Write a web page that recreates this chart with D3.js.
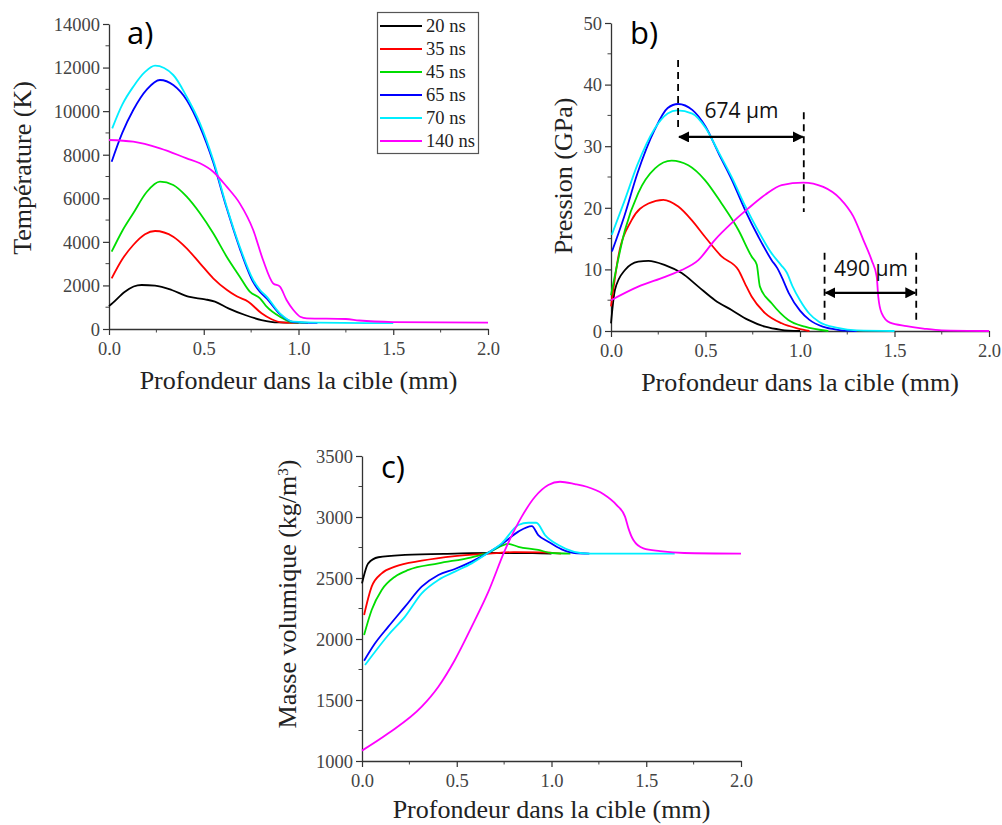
<!DOCTYPE html>
<html><head><meta charset="utf-8">
<script src="https://cdn.jsdelivr.net/npm/d3@7"></script>
<style>body{margin:0;background:#fff}svg{display:block}</style>
</head><body><svg id="c" width="1002" height="825"></svg>
<script>
// ---------- DATA ----------
const seriesNames = ["20 ns","35 ns","45 ns","65 ns","70 ns","140 ns"];
const seriesColors = ["#000000","#ff0000","#00dd00","#0000ff","#00eeff","#ff00ff"];
const xTicks = [0,0.5,1.0,1.5,2.0];

// a) Temperature (K)
const temp20 = [[0,1050],[0.02,1200],[0.084,1713],[0.13,1950],[0.172,2020],[0.243,1988],[0.331,1790],[0.419,1483],[0.507,1362],[0.559,1255],[0.63,949],[0.718,643],[0.805,413],[0.893,300],[1.0,290]];
const temp35 = [[0.014,2326],[0.07,3200],[0.128,3856],[0.19,4350],[0.243,4498],[0.339,4237],[0.41,3703],[0.48,3015],[0.55,2327],[0.621,1800],[0.674,1500],[0.735,1255],[0.805,720],[0.858,445],[0.911,300],[1.0,280]];
const temp45 = [[0.014,3548],[0.07,4500],[0.128,5311],[0.2,6300],[0.269,6761],[0.339,6608],[0.41,6073],[0.48,5311],[0.55,4393],[0.621,3320],[0.69,2402],[0.743,1713],[0.797,1408],[0.832,1025],[0.902,565],[0.973,300],[1.05,280]];
const temp65 = [[0.014,7680],[0.07,9000],[0.128,10052],[0.2,11000],[0.269,11430],[0.339,11200],[0.41,10512],[0.48,9286],[0.55,7650],[0.621,5550],[0.69,3700],[0.761,2150],[0.797,1700],[0.832,1400],[0.902,680],[0.973,320],[1.1,280]];
const temp70 = [[0.017,9212],[0.07,10300],[0.128,11123],[0.19,11800],[0.243,12086],[0.339,11659],[0.41,10663],[0.48,9442],[0.55,7757],[0.621,5614],[0.69,3778],[0.761,2249],[0.797,1790],[0.832,1483],[0.902,720],[0.973,335],[1.1,290],[1.5,270]];
const temp140 = [[0,8676],[0.128,8600],[0.269,8294],[0.41,7835],[0.48,7605],[0.55,7220],[0.621,6532],[0.69,5767],[0.761,4544],[0.813,3167],[0.866,2098],[0.902,1942],[0.937,1331],[0.973,872],[1.009,565],[1.044,490],[1.25,460],[1.32,390],[1.5,320],[2.0,290]];

// b) Pressure (GPa)
const pres20 = [[0.0,1.25],[0.021,6.7],[0.074,9.9],[0.144,11.25],[0.198,11.4],[0.286,10.7],[0.374,9.4],[0.462,7.2],[0.55,5.0],[0.638,3.4],[0.726,1.8],[0.815,0.7],[0.9,0.2],[1.0,0]];
const pres35 = [[0.0,4.0],[0.039,12.1],[0.109,18.0],[0.198,20.7],[0.277,21.3],[0.356,20.2],[0.427,18.0],[0.497,15.3],[0.585,12.1],[0.674,9.9],[0.709,7.7],[0.744,5.6],[0.815,2.9],[0.903,1.25],[0.99,0.4],[1.05,0]];
const pres45 = [[0.0,5.8],[0.074,16.4],[0.144,22.4],[0.233,26.4],[0.321,27.65],[0.409,26.9],[0.497,24.5],[0.585,20.7],[0.674,16.4],[0.744,12.1],[0.771,10.8],[0.788,7.2],[0.85,4.5],[0.938,1.8],[1.026,0.7],[1.15,0]];
const pres65 = [[0.005,12.9],[0.07,18.6],[0.14,25.6],[0.23,32.6],[0.30,36.2],[0.355,36.85],[0.43,35.9],[0.50,33.2],[0.57,28.8],[0.64,24.5],[0.71,19.6],[0.78,15.3],[0.85,11.5],[0.88,10.2],[0.90,9.0],[0.94,6.2],[1.0,3.3],[1.05,1.8],[1.12,0.7],[1.2,0.2],[1.3,0]];
const pres70 = [[0.004,15.6],[0.07,21.0],[0.14,27.0],[0.23,32.8],[0.30,35.3],[0.35,35.8],[0.43,35.3],[0.50,33.0],[0.57,29.0],[0.64,24.9],[0.71,20.3],[0.78,16.2],[0.85,12.6],[0.90,10.7],[0.93,9.5],[0.96,7.3],[1.0,5.0],[1.05,2.8],[1.1,1.5],[1.2,0.5],[1.3,0.1],[1.5,0]];
const pres140 = [[0,5.0],[0.144,7.2],[0.286,8.8],[0.374,9.9],[0.462,11.5],[0.55,14.8],[0.638,17.5],[0.726,19.9],[0.815,22.1],[0.903,23.7],[1.017,24.1],[1.123,23.4],[1.212,21.5],[1.282,18.6],[1.335,14.8],[1.379,11.5],[1.406,8.8],[1.414,5.6],[1.432,2.9],[1.476,1.35],[1.564,0.8],[1.653,0.4],[1.75,0.1],[2.0,0]];

// c) Density (kg/m3)
const dens20 = [[0.0,2456],[0.033,2620],[0.086,2670],[0.227,2689],[0.49,2700],[0.7,2705],[0.9,2705],[1.0,2700]];
const dens35 = [[0.011,2197],[0.051,2429],[0.104,2538],[0.174,2593],[0.315,2642],[0.49,2680],[0.67,2700],[0.8,2712],[0.95,2710],[1.05,2700]];
const dens45 = [[0.011,2033],[0.051,2238],[0.104,2402],[0.174,2511],[0.245,2566],[0.403,2620],[0.579,2670],[0.67,2710],[0.772,2779],[0.825,2756],[0.93,2730],[1.0,2705],[1.1,2700]];
const dens65 = [[0.011,1822],[0.069,1965],[0.139,2101],[0.227,2265],[0.315,2429],[0.403,2525],[0.49,2574],[0.579,2634],[0.667,2708],[0.755,2798],[0.825,2880],[0.896,2926],[0.93,2852],[0.983,2798],[1.054,2735],[1.12,2705],[1.2,2700]];
const dens70 = [[0.016,1787],[0.069,1896],[0.139,2033],[0.227,2183],[0.315,2374],[0.403,2484],[0.49,2552],[0.579,2620],[0.667,2708],[0.737,2784],[0.825,2934],[0.878,2953],[0.92,2953],[0.966,2852],[1.036,2770],[1.12,2715],[1.2,2700],[1.65,2700]];
const dens140 = [[0,1085],[0.139,1227],[0.315,1445],[0.403,1609],[0.49,1828],[0.579,2101],[0.667,2388],[0.755,2730],[0.843,3003],[0.913,3166],[0.983,3262],[1.045,3289],[1.124,3270],[1.186,3248],[1.273,3189],[1.344,3098],[1.388,3003],[1.406,2907],[1.432,2811],[1.485,2743],[1.573,2721],[1.7,2705],[2.0,2700]];

const tempTicks = [0,2000,4000,6000,8000,10000,12000,14000];
const presTicks = [0,10,20,30,40,50];
const densTicks = [1000,1500,2000,2500,3000,3500];

// ---------- DRAW ----------
const svg = d3.select("#c");
const serif = "'Liberation Serif','Times New Roman',serif";
const sans = "'Open Sans','Noto Sans',sans-serif";

function panel(o){
  const g = svg.append("g");
  const x = d3.scaleLinear().domain([0,2]).range([o.x0,o.x1]);
  const y = d3.scaleLinear().domain(o.yDomain).range([o.y0,o.y1]);
  const xMinor = d3.range(0.25,2.0,0.5);
  const yStep = o.yTicks[1]-o.yTicks[0];
  const yMinor = o.yTicks.slice(0,-1).map(v=>v+yStep/2);
  g.selectAll(".xm").data(xMinor).join("line")
    .attr("x1",d=>x(d)).attr("x2",d=>x(d)).attr("y1",o.y0).attr("y2",o.y0+3.5)
    .attr("stroke","#444").attr("stroke-width",1);
  g.selectAll(".ym").data(yMinor).join("line")
    .attr("y1",d=>y(d)).attr("y2",d=>y(d)).attr("x1",o.x0).attr("x2",o.x0-3.5)
    .attr("stroke","#444").attr("stroke-width",1);
  const ax = g.append("g").attr("transform",`translate(0,${o.y0})`)
    .call(d3.axisBottom(x).tickValues(xTicks).tickFormat(d3.format(".1f")).tickSize(6).tickSizeOuter(0));
  const ay = g.append("g").attr("transform",`translate(${o.x0},0)`)
    .call(d3.axisLeft(y).tickValues(o.yTicks).tickFormat(d3.format("d")).tickSize(6).tickSizeOuter(0));
  [ax,ay].forEach(a=>{
    a.select(".domain").attr("stroke","#333").attr("stroke-width",1.3);
    a.selectAll(".tick line").attr("stroke","#333").attr("stroke-width",1.2);
    a.selectAll("text").attr("font-family",serif).attr("font-size",18.5).attr("fill","#444");
  });
  ax.selectAll("text").attr("dy","0.92em");
  ay.selectAll("text").attr("x",-9).attr("dy","0.34em");
  const line = d3.line().x(d=>x(d[0])).y(d=>y(d[1])).curve(d3.curveMonotoneX);
  o.series.forEach((s,i)=>{
    g.append("path").attr("d",line(s)).attr("fill","none")
      .attr("stroke",seriesColors[i]).attr("stroke-width",1.8);
  });
  g.append("text").attr("x",(o.x0+o.x1)/2).attr("y",o.xLabelY).attr("text-anchor","middle")
    .attr("font-family",serif).attr("font-size",26).attr("fill","#222")
    .text("Profondeur dans la cible (mm)");
  const yl = g.append("text").attr("transform",`translate(${o.yLabelX},${o.yLabelCY}) rotate(-90)`)
    .attr("text-anchor","middle").attr("font-family",serif).attr("font-size",26).attr("fill","#222");
  yl.text(o.yLabel);
  if(o.sup){ yl.append("tspan").attr("baseline-shift","super").attr("font-size",15).text(o.sup); yl.append("tspan").text(")"); }
  g.append("text").attr("x",o.letterX).attr("y",o.letterY).attr("font-family",sans)
    .attr("font-size",31).attr("fill","#000").text(o.letter);
  return {g,x,y};
}

panel({x0:109,x1:488,y0:329,y1:24,yDomain:[0,14000],yTicks:tempTicks,
  series:[temp20,temp35,temp45,temp65,temp70,temp140],
  xLabelY:389,yLabel:"Température (K)",yLabelX:31,yLabelCY:168,letter:"a)",letterX:127,letterY:44});

const pb = panel({x0:611,x1:989,y0:331,y1:23,yDomain:[0,50],yTicks:presTicks,
  series:[pres20,pres35,pres45,pres65,pres70,pres140],
  xLabelY:391,yLabel:"Pression (GPa)",yLabelX:572,yLabelCY:176,letter:"b)",letterX:630,letterY:44});

panel({x0:362,x1:741,y0:761,y1:456,yDomain:[1000,3500],yTicks:densTicks,
  series:[dens20,dens35,dens45,dens65,dens70,dens140],
  xLabelY:818,yLabel:"Masse volumique (kg/m",sup:"3",yLabelX:296,yLabelCY:594,letter:"c)",letterX:381,letterY:478});

// Legend (panel a)
const lg = svg.append("g");
lg.append("rect").attr("x",377.5).attr("y",12.5).attr("width",101).attr("height",141)
  .attr("fill","#fff").attr("stroke","#555").attr("stroke-width",1.2);
seriesNames.forEach((n,i)=>{
  const yy = 26 + i*23;
  lg.append("line").attr("x1",380).attr("x2",422).attr("y1",yy).attr("y2",yy)
    .attr("stroke",seriesColors[i]).attr("stroke-width",2);
  lg.append("text").attr("x",426).attr("y",yy+6).attr("font-family",serif)
    .attr("font-size",18.5).attr("fill","#222").text(n);
});

// Annotations (panel b)
const annX = [0.355,1.02];
const annX2 = [1.13,1.615];
const ag = pb.g.append("g");
const xb = pb.x, yb = pb.y;
svg.append("defs").html(`<marker id="ah" viewBox="0 0 10 10" refX="9" refY="5" markerWidth="5" markerHeight="5" orient="auto-start-reverse"><path d="M0,0L10,5L0,10z" fill="#000"/></marker>`);
function dash(xv,ya,yb2){
  ag.append("line").attr("x1",xb(xv)).attr("x2",xb(xv)).attr("y1",yb(ya)).attr("y2",yb(yb2))
    .attr("stroke","#000").attr("stroke-width",1.8).attr("stroke-dasharray","7,5");
}
dash(annX[0],44,32.4); dash(annX[1],35.5,19.3);
dash(annX2[0],12.7,1.3); dash(annX2[1],12.7,1.3);
function arrow(xa,xb2,yv){
  ag.append("line").attr("x1",xb(xa)+1).attr("x2",xb(xb2)-1).attr("y1",yb(yv)).attr("y2",yb(yv))
    .attr("stroke","#000").attr("stroke-width",2.2)
    .attr("marker-start","url(#ah)").attr("marker-end","url(#ah)");
}
arrow(annX[0],annX[1],31.5);
arrow(annX2[0],annX2[1],6.2);
ag.append("text").attr("x",xb(0.69)).attr("y",yb(34.6)).attr("text-anchor","middle")
  .attr("font-family",sans).attr("font-size",21).attr("fill","#111").text("674 µm");
ag.append("text").attr("x",xb(1.375)).attr("y",yb(8.9)).attr("text-anchor","middle")
  .attr("font-family",sans).attr("font-size",21).attr("fill","#111").text("490 µm");
</script></body></html>
